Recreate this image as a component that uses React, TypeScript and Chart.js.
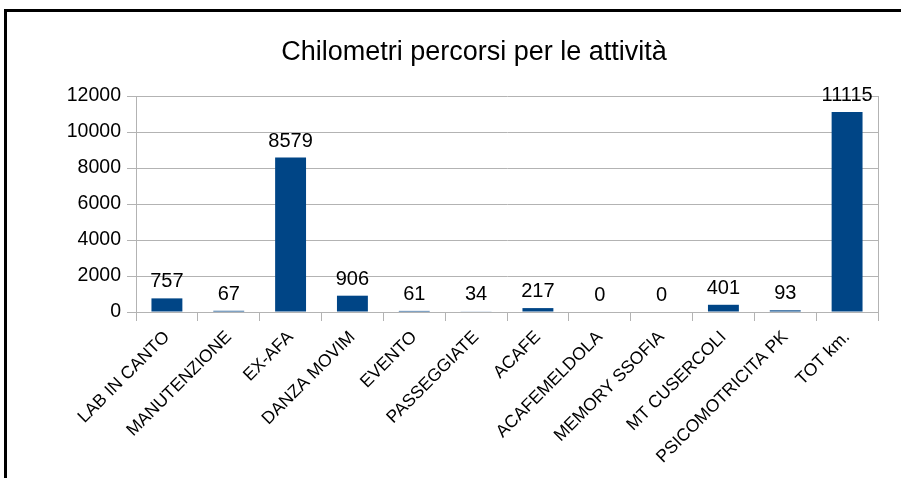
import React, { useEffect, useRef } from "react";
import { Chart, registerables } from "chart.js";

Chart.register(...registerables);

const TITLE = "Chilometri percorsi per le attività";
const categories = [
  "LAB IN CANTO",
  "MANUTENZIONE",
  "EX-AFA",
  "DANZA MOVIM",
  "EVENTO",
  "PASSEGGIATE",
  "ACAFE",
  "ACAFEMELDOLA",
  "MEMORY SSOFIA",
  "MT CUSERCOLI",
  "PSICOMOTRICITA PK",
  "TOT km.",
];
const kmValues = [757, 67, 8579, 906, 61, 34, 217, 0, 0, 401, 93, 11115];
const yTicks = [0, 2000, 4000, 6000, 8000, 10000, 12000];

const FONT = "'Liberation Sans', Arial, sans-serif";
const GRID = "#b3b3b3";
const BAR = "#004586";

const W = 901;
const H = 478;

export default function App() {
  const ref = useRef<HTMLCanvasElement | null>(null);

  useEffect(() => {
    if (!ref.current) return;
    const extras = {
      id: "extras",
      afterDatasetsDraw(chart: any) {
        const ctx = chart.ctx;
        const meta = chart.getDatasetMeta(0);
        ctx.save();
        ctx.fillStyle = "#000";
        ctx.font = `20px ${FONT}`;
        ctx.textAlign = "center";
        ctx.textBaseline = "alphabetic";
        meta.data.forEach((el: any, i: number) => {
          ctx.fillText(String(kmValues[i]), el.x, el.y - 11);
        });
        ctx.restore();
      },
      afterDraw(chart: any) {
        const ctx = chart.ctx;
        const a = chart.chartArea;
        ctx.save();
        ctx.strokeStyle = GRID;
        ctx.lineWidth = 1;
        ctx.beginPath();
        ctx.moveTo(Math.round(a.right) + 0.5, a.top);
        ctx.lineTo(Math.round(a.right) + 0.5, a.bottom + 9);
        ctx.stroke();
        ctx.fillStyle = "#000";
        ctx.font = `27px ${FONT}`;
        ctx.textAlign = "center";
        ctx.textBaseline = "alphabetic";
        ctx.fillText(TITLE, 474, 60);
        ctx.restore();
      },
    };

    const chart = new Chart(ref.current, {
      type: "bar",
      data: {
        labels: categories,
        datasets: [
          {
            data: kmValues,
            backgroundColor: BAR,
            borderWidth: 0,
            barPercentage: 0.5,
            categoryPercentage: 1,
          },
        ],
      },
      options: {
        responsive: false,
        animation: false,
        devicePixelRatio: 1,
        layout: { padding: { top: 96, right: 23, left: 0, bottom: 0 } },
        plugins: {
          legend: { display: false },
          title: { display: false },
          tooltip: { enabled: false },
        },
        scales: {
          x: {
            grid: {
              offset: true,
              drawOnChartArea: false,
              drawTicks: true,
              tickLength: 9,
              color: GRID,
            },
            border: { display: true, color: GRID },
            ticks: {
              minRotation: 45,
              maxRotation: 45,
              autoSkip: false,
              color: "#000",
              padding: 6,
              font: { family: FONT, size: 17.5 },
            },
            afterFit(scale: any) {
              scale.height = H - 312;
            },
          },
          y: {
            min: 0,
            max: 12000,
            afterBuildTicks(scale: any) {
              scale.ticks = yTicks.map((v) => ({ value: v }));
            },
            grid: {
              drawTicks: true,
              tickLength: 9,
              color: GRID,
            },
            border: { display: true, color: GRID },
            ticks: {
              color: "#000",
              padding: 6,
              font: { family: FONT, size: 19.5 },
              callback: (v: any) => String(v),
            },
            afterFit(scale: any) {
              scale.width = 136;
            },
          },
        },
      },
      plugins: [extras],
    });
    return () => chart.destroy();
  }, []);

  return (
    <div
      style={{
        position: "fixed",
        left: 0,
        top: 0,
        width: W,
        height: H,
        overflow: "hidden",
        background: "#fff",
      }}
    >
      <div
        style={{
          position: "absolute",
          left: 4,
          top: 9,
          width: 2000,
          height: 2000,
          borderLeft: "3px solid #000",
          borderTop: "3px solid #000",
        }}
      />
      <canvas
        ref={ref}
        width={W}
        height={H}
        style={{ position: "absolute", left: 0, top: 0, width: W, height: H }}
      />
    </div>
  );
}
